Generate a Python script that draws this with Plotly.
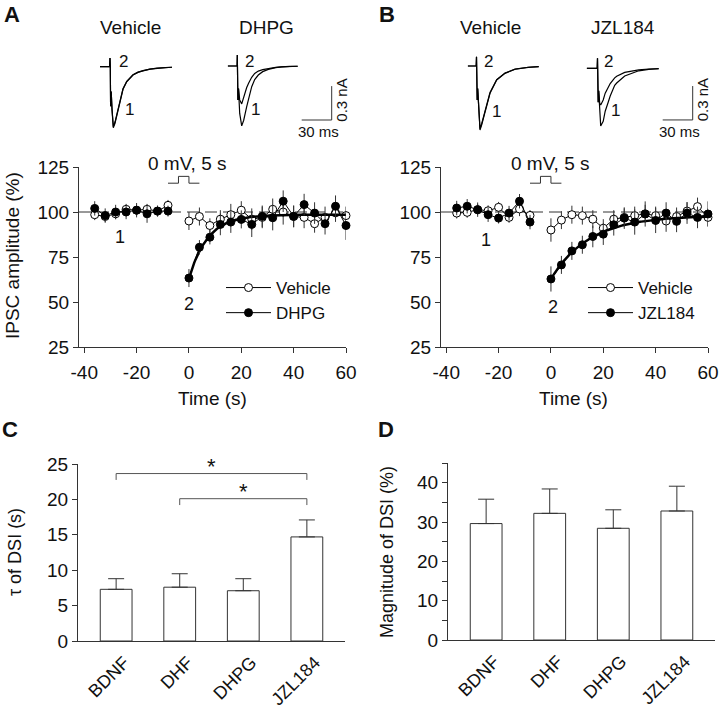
import plotly.graph_objects as go
import numpy as np

W, H = 720, 714
FONT = "Arial, Liberation Sans, sans-serif"
AX = "#333333"

# ---------------- time-course data (panels A & B) ----------------
t_pre = [-36, -32, -28, -24, -20, -16, -12, -8]
t_post = [0, 4, 8, 12, 16, 20, 24, 28, 32, 36, 40, 44, 48, 52, 56, 60]
time_ticks = [-40, -20, 0, 20, 40, 60]
time_ticktext = ["-40", "-20", "0", "20", "40", "60"]

a_veh_pre = [98.5, 97.5, 99, 101.5, 101, 101.5, 100.5, 103.7]
a_veh_pre_err = [3, 3, 3, 3, 3, 3, 3, 3]
a_veh_post = [95, 97.5, 92.5, 96, 98.5, 101, 96, 97, 101.5, 100, 97.5, 97, 93.5, 97, 99.5, 98]
a_veh_post_err = [5, 5, 4, 5, 6, 5, 6, 6, 6, 7, 6, 6, 5, 6, 5, 5]
a_drug_pre = [102, 98, 100, 100, 101, 99, 100.5, 100.5]
a_drug_pre_err = [4, 4, 4, 4, 4, 5, 3, 3]
a_drug_post = [63.3, 80.4, 86, 93.1, 94.4, 95.9, 93.1, 97.6, 96.8, 106, 97.6, 104.1, 99.4, 93.5, 103.2, 92.5]
a_drug_post_err = [5, 4, 4, 6, 6, 5, 7, 6, 7, 6, 6, 6, 6, 6, 6, 8]

b_veh_pre = [99.4, 99.8, 101.3, 100.7, 102.6, 97, 101.7, 98.1]
b_veh_pre_err = [3, 3, 3, 3, 3, 3, 4, 3]
b_veh_post = [90, 95.5, 98.5, 98, 96, 91, 96, 97, 98, 99, 98, 95, 97.5, 100.5, 103, 97]
b_veh_post_err = [6.5, 5, 5, 5, 5, 5, 5, 5, 5, 5, 5, 6, 5, 5, 5, 5]
b_drug_pre = [102.2, 103.2, 101.3, 98.5, 96.6, 99.4, 106, 94.4]
b_drug_pre_err = [4, 4, 4, 4, 3, 4, 4, 4]
b_drug_post = [62.8, 70.6, 78.4, 81.8, 86.4, 87.7, 92.9, 96.6, 94.4, 98.9, 95.3, 99.4, 94.8, 99.4, 97, 98.9]
b_drug_post_err = [7, 5, 5, 5, 6, 6, 6, 6, 7, 7, 7, 6, 6, 6, 6, 7]

# single-exponential fits (plateau, amplitude, tau in s)
a_fit = (98.5, 35.5, 7.1)
b_fit = (98.0, 35.0, 14.7)

# ---------------- bar data (panels C & D) ----------------
cats = ["BDNF", "DHF", "DHPG", "JZL184"]
tau = [7.3, 7.6, 7.1, 14.7]
tau_err = [1.5, 1.9, 1.7, 2.4]
mag = [29.6, 32.2, 28.4, 32.8]
mag_err = [6.2, 6.2, 4.7, 6.3]
sig_pairs = [(0, 3, 23.65), (1, 3, 20.1)]

# ---------------- IPSC example traces (ms, nA) ----------------
a_veh_t = [0, 9.5, 10, 10.3, 10.6, 11.2, 12, 13.3, 15, 17, 20, 23, 26.7, 30, 33, 38, 43, 50, 57, 65, 72]
a_veh_1 = [0, 0, 0.077, 0, -0.35, -0.22, -0.38, -0.54, -0.5, -0.42, -0.3, -0.2, -0.133, -0.1, -0.074, -0.05, -0.035, -0.022, -0.014, -0.008, -0.005]
a_veh_2 = [0, 0, 0.077, 0, -0.35, -0.22, -0.37, -0.53, -0.49, -0.41, -0.29, -0.195, -0.13, -0.097, -0.072, -0.048, -0.034, -0.021, -0.013, -0.008, -0.005]

a_drug_t = [0, 9.4, 9.6, 9.9, 10.2, 10.8, 12, 14, 16, 19, 21, 24, 27, 30.6, 35, 40.6, 48, 54, 62, 70]
a_drug_1 = [0, 0, 0.097, 0, -0.3, -0.2, -0.42, -0.53, -0.48, -0.36, -0.28, -0.183, -0.12, -0.08, -0.05, -0.03, -0.015, -0.007, -0.004, -0.002]
a_drug_2 = [0, 0, 0.097, 0, -0.3, -0.2, -0.3, -0.335, -0.27, -0.19, -0.15, -0.1, -0.066, -0.045, -0.032, -0.021, -0.012, -0.007, -0.004, -0.002]

b_veh_t = [0, 8.5, 8.8, 9.1, 9.5, 10, 11, 12.3, 14, 17.3, 22.3, 29, 37.3, 47.3, 60.6, 71]
b_veh_1 = [0, 0, 0.082, 0, -0.3, -0.2, -0.4, -0.566, -0.52, -0.404, -0.242, -0.124, -0.065, -0.029, -0.012, -0.006]
b_veh_2 = [0, 0, 0.082, 0, -0.3, -0.2, -0.39, -0.555, -0.51, -0.395, -0.235, -0.12, -0.062, -0.028, -0.011, -0.005]

b_drug_t = [0, 10.5, 10.8, 11.1, 11.5, 12, 13, 14, 16.5, 18.5, 21.5, 23.5, 28, 30, 38, 48, 52, 62, 72]
b_drug_1 = [0, 0, 0.088, 0, -0.3, -0.2, -0.4, -0.51, -0.47, -0.38, -0.3, -0.245, -0.15, -0.13, -0.068, -0.03, -0.022, -0.009, -0.004]
b_drug_2 = [0, 0, 0.088, 0, -0.3, -0.2, -0.31, -0.325, -0.28, -0.22, -0.165, -0.135, -0.085, -0.07, -0.036, -0.018, -0.014, -0.006, -0.003]

scale_ms, scale_na = 30, 0.3


# ---------------- helpers ----------------
def xd(a, b):
    return [a / W, b / W]


def yd(top, bottom):
    return [1 - bottom / H, 1 - top / H]


def px(x):
    return x / W


def py(y):
    return 1 - y / H


fig = go.Figure()


def series(xs, ys, es, ax, filled, name, legend, show):
    fig.add_trace(go.Scatter(
        x=xs, y=ys, mode="lines+markers", name=name, legend=legend, showlegend=show,
        xaxis="x" + ax, yaxis="y" + ax, cliponaxis=False,
        line=dict(color="black", width=1),
        marker=dict(size=8, symbol="circle", color="black" if filled else "white",
                    line=dict(color="black", width=1)),
        error_y=dict(type="data", array=es, color=AX, thickness=1, width=0),
    ))


def fit_trace(params, ax):
    plateau, amp, tc = params
    tt = np.linspace(t_post[0], t_post[-1], 121)
    fig.add_trace(go.Scatter(x=tt, y=plateau - amp * np.exp(-tt / tc), mode="lines",
                             showlegend=False, xaxis="x" + ax, yaxis="y" + ax, cliponaxis=False,
                             line=dict(color="black", width=2.5)))


# panel A
series(t_pre, a_veh_pre, a_veh_pre_err, "", False, "Vehicle", "legend", True)
series(t_post, a_veh_post, a_veh_post_err, "", False, "Vehicle", "legend", False)
fit_trace(a_fit, "")
series(t_pre, a_drug_pre, a_drug_pre_err, "", True, "DHPG", "legend", True)
series(t_post, a_drug_post, a_drug_post_err, "", True, "DHPG", "legend", False)
# panel B
series(t_pre, b_veh_pre, b_veh_pre_err, "2", False, "Vehicle", "legend2", True)
series(t_post, b_veh_post, b_veh_post_err, "2", False, "Vehicle", "legend2", False)
fit_trace(b_fit, "2")
series(t_pre, b_drug_pre, b_drug_pre_err, "2", True, "JZL184", "legend2", True)
series(t_post, b_drug_post, b_drug_post_err, "2", True, "JZL184", "legend2", False)

# panels C, D bars
for vals, errs, ax in [(tau, tau_err, "3"), (mag, mag_err, "4")]:
    fig.add_trace(go.Bar(
        x=cats, y=vals, width=0.5, showlegend=False, xaxis="x" + ax, yaxis="y" + ax,
        marker=dict(color="white", line=dict(color=AX, width=1)),
        error_y=dict(type="data", array=errs, arrayminus=[0] * len(errs), symmetric=False,
                     color=AX, thickness=1, width=8),
    ))

# insets
insets = [
    ("5", a_veh_t, [a_veh_1, a_veh_2], 100.0, 66.7, 80),
    ("6", a_drug_t, [a_drug_1, a_drug_2], 227.7, 66.0, 112),
    ("7", b_veh_t, [b_veh_1, b_veh_2], 467.7, 66.0, 80),
    ("8", b_drug_t, [b_drug_1, b_drug_2], 586.7, 68.3, 112),
]
PX_PER_NA = 113.0
layout_axes = {}
for ax, tt, trs, x0, y0, span in insets:
    for tr in trs:
        fig.add_trace(go.Scatter(x=tt, y=tr, mode="lines", showlegend=False,
                                 xaxis="x" + ax, yaxis="y" + ax,
                                 line=dict(color="black", width=1.2)))
    layout_axes["xaxis" + ax] = dict(domain=xd(x0, x0 + span), range=[0, span], visible=False,
                                     anchor="y" + ax, fixedrange=True, automargin=False)
    layout_axes["yaxis" + ax] = dict(domain=yd(y0 - 20, y0 + 70),
                                     range=[-70 / PX_PER_NA, 20 / PX_PER_NA], visible=False,
                                     anchor="x" + ax, fixedrange=True, automargin=False)

shapes = []
annotations = []

# scale bars on drug insets
for ax, t_end, bottom in [("6", 104, -0.478), ("8", 106, -0.457)]:
    shapes.append(dict(type="line", xref="x" + ax, yref="y" + ax, x0=t_end - scale_ms, x1=t_end,
                       y0=bottom, y1=bottom, line=dict(color=AX, width=1)))
    shapes.append(dict(type="line", xref="x" + ax, yref="y" + ax, x0=t_end, x1=t_end,
                       y0=bottom, y1=bottom + scale_na, line=dict(color=AX, width=1)))

# dashed 100% line and stimulus step
for ax in ["", "2"]:
    shapes.append(dict(type="line", xref="x" + ax, yref="y" + ax, x0=-42, x1=60, y0=100, y1=100,
                       line=dict(color=AX, width=1, dash="12px,6px"), layer="below"))
    shapes.append(dict(type="path", xref="x" + ax, yref="y" + ax,
                       path="M -8 116 L -4 116 L -4 119.8 L 0 119.8 L 0 116 L 4 116",
                       line=dict(color=AX, width=1)))

# "1" / "2" labels in time course
for ax, p1, p2 in [("", (-26.4, 86.2), (0, 49)), ("2", (-24.9, 84.6), (0.6, 47.3))]:
    annotations.append(dict(xref="x" + ax, yref="y" + ax, x=p1[0], y=p1[1], text="1",
                            showarrow=False, font=dict(size=18)))
    annotations.append(dict(xref="x" + ax, yref="y" + ax, x=p2[0], y=p2[1], text="2",
                            showarrow=False, font=dict(size=18)))

# significance brackets (panel C)
for i0, i1, yb in sig_pairs:
    drop = 0.9
    for (xa, ya, xb, yb2) in [(i0, yb - drop, i0, yb), (i0, yb, i1, yb), (i1, yb, i1, yb - drop)]:
        shapes.append(dict(type="line", xref="x3", yref="y3", x0=xa, x1=xb, y0=ya, y1=yb2,
                           line=dict(color="#555555", width=1)))
    annotations.append(dict(xref="x3", yref="y3", x=(i0 + i1) / 2, y=yb - 1.1, text="*",
                            showarrow=False, yanchor="bottom", font=dict(size=22)))


def ptext(x, y, text, size=19, bold=False, angle=0):
    annotations.append(dict(xref="paper", yref="paper", x=px(x), y=py(y), text=text,
                            showarrow=False, textangle=angle, xanchor="center", yanchor="middle",
                            font=dict(size=size, family=FONT,
                                      weight="bold" if bold else "normal")))


# panel letters
ptext(11.5, 14.5, "A", 22, True)
ptext(386.5, 14.5, "B", 22, True)
ptext(9.5, 429.5, "C", 22, True)
ptext(385.5, 429.5, "D", 22, True)
# inset titles
ptext(130, 28, "Vehicle")
ptext(266.7, 28, "DHPG")
ptext(490, 28, "Vehicle")
ptext(623.3, 28, "JZL184")
# trace labels
for x2, x1, y2, y1 in [(123.3, 129.3, 61.7, 109), (249, 255, 61.7, 109),
                       (488.3, 496.7, 61.7, 111.7), (608.3, 615, 61.7, 110)]:
    ptext(x2, y2, "2", 17)
    ptext(x1, y1, "1", 17)
# scale bar labels
ptext(318, 131, "30 ms", 15)
ptext(341.7, 100, "0.3 nA", 15, angle=-90)
ptext(679.3, 131, "30 ms", 15)
ptext(703.3, 100, "0.3 nA", 15, angle=-90)
# stimulus labels
ptext(187.3, 164, "0 mV, 5 s")
ptext(550.7, 163.3, "0 mV, 5 s")
# axis titles
ptext(12, 256, "IPSC amplitude (%)", 19, angle=-90)
ptext(212, 398, "Time (s)")
ptext(573, 398, "Time (s)")
ptext(15, 552, "τ of DSI (s)", 18, angle=-90)
ptext(387, 552, "Magnitude of DSI (%)", 18, angle=-90)

base = dict(showline=True, linecolor=AX, linewidth=1, ticks="outside", ticklen=5, tickcolor=AX,
            tickwidth=1, showgrid=False, zeroline=False, fixedrange=True, automargin=False,
            tickfont=dict(size=19, color="#111111", family=FONT))
bar_tickfont = dict(size=18, color="#111111", family=FONT)

fig.update_layout(
    width=W, height=H, margin=dict(l=0, r=0, t=0, b=0, pad=0, autoexpand=False),
    paper_bgcolor="white", plot_bgcolor="white",
    font=dict(family=FONT, size=16, color="#111111"),
    xaxis=dict(base, domain=xd(79, 346), range=[-42, 60], tickvals=time_ticks,
               ticktext=time_ticktext, anchor="y", ticklabelstandoff=3),
    yaxis=dict(base, domain=yd(167, 347), range=[25, 125], dtick=25, anchor="x"),
    xaxis2=dict(base, domain=xd(441, 708), range=[-42, 60], tickvals=time_ticks,
                ticktext=time_ticktext, anchor="y2", ticklabelstandoff=3),
    yaxis2=dict(base, domain=yd(167, 347), range=[25, 125], dtick=25, anchor="x2"),
    xaxis3=dict(base, domain=xd(78, 345), range=[-0.6, 3.6], ticks="", tickangle=-45,
                anchor="y3", type="category", tickfont=bar_tickfont, ticklabelshift=8,
                ticklabelstandoff=3),
    yaxis3=dict(base, domain=yd(464, 641), range=[0, 25], dtick=5, anchor="x3"),
    xaxis4=dict(base, domain=xd(448, 715), range=[-0.6, 3.6], ticks="", tickangle=-45,
                anchor="y4", type="category", tickfont=bar_tickfont, ticklabelshift=8,
                ticklabelstandoff=3),
    yaxis4=dict(base, domain=yd(463, 640), range=[0, 45], dtick=10, anchor="x4",
                minor=dict(dtick=5, ticks="outside", ticklen=5, tickcolor=AX)),
    legend=dict(x=px(221), y=py(270), xanchor="left", yanchor="top", bgcolor="rgba(0,0,0,0)",
                font=dict(size=17), itemwidth=45, tracegroupgap=0),
    legend2=dict(x=px(583), y=py(270), xanchor="left", yanchor="top", bgcolor="rgba(0,0,0,0)",
                 font=dict(size=17), itemwidth=45, tracegroupgap=0),
    shapes=shapes, annotations=annotations,
    **layout_axes,
)

fig.write_html("out.html", config={"displayModeBar": False},
               post_script="document.body.style.margin='0px';document.body.style.overflow='hidden';")
